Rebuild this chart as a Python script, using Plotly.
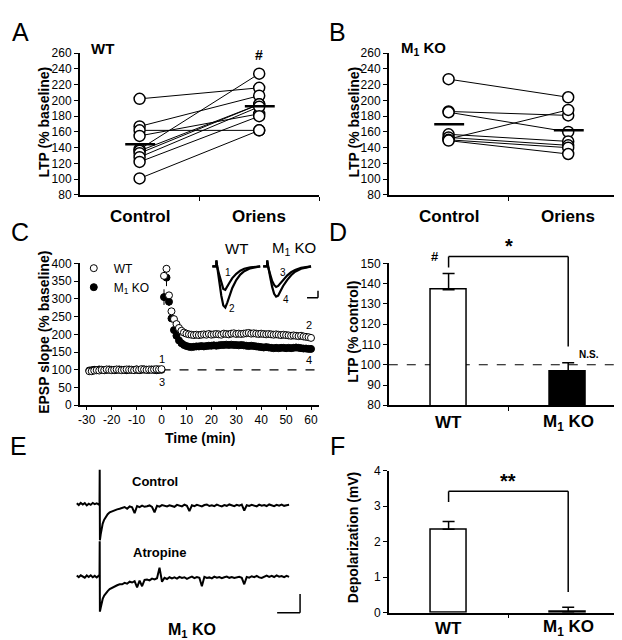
import numpy as np
import plotly.graph_objects as go

W, H = 622, 640
FONT = "Liberation Sans, Arial, Helvetica, sans-serif"


def px(x):
    return x / W


def py(y):
    return 1 - y / H


# ---------------- DATA ----------------
CAT_POS = [0.25, 0.75]            # Control, Oriens (panels A, B) / WT, M1 KO (D, F)
CAT_LABELS_AB = ["Control", "Oriens"]
CAT_LABELS_DF = ["WT", "M<sub>1</sub> KO"]

# Panel A (WT): paired LTP values (% baseline)
A_CONTROL = [202, 167, 162, 155, 138, 136, 133, 128, 122, 101]
A_ORIENS = [216, 206, 162, 183, 234, 195, 195, 192, 180, 162]
# Panel B (M1 KO)
B_CONTROL = [227, 186, 185, 151, 157, 153, 150, 149]
B_ORIENS = [204, 181, 160, 188, 148, 143, 140, 132]

# Panel C: EPSP slope time course (% baseline)
C_X_TICKS = [-30, -20, -10, 0, 10, 20, 30, 40, 50, 60]
C_X_TICKTEXT = ["-30", "-20", "-10", "0", "10", "20", "30", "40", "50", "60"]
C_BASE_T = list(range(-29, 1))
C_WT_BASE = [96, 96, 98, 99, 98, 100, 99, 101, 100, 99, 100, 101, 100, 99, 100,
             101, 100, 100, 99, 101, 100, 102, 101, 100, 101, 100, 101, 102, 101, 102]
C_KO_BASE = [98, 99, 100, 99, 101, 100, 99, 100, 101, 100, 99, 100, 101, 100, 100,
             99, 101, 100, 100, 101, 99, 100, 101, 100, 100, 101, 100, 99, 100, 100]
C_POST_T = list(range(1, 61))
C_WT_POST = [365, 385, 310, 265, 243, 229, 218, 210, 205, 202,
             200, 199, 198, 199, 198, 199, 200, 199, 201, 199,
             200, 201, 200, 199, 202, 201, 200, 202, 203, 201,
             202, 201, 202, 203, 204, 202, 203, 202, 201, 202,
             201, 200, 201, 200, 199, 200, 199, 198, 199, 198,
             197, 196, 197, 196, 195, 196, 194, 193, 192, 190]
C_KO_POST = [305, 360, 292, 245, 212, 196, 183, 175, 170, 167,
             165, 164, 165, 166, 166, 167, 166, 167, 168, 168,
             169, 168, 169, 170, 170, 171, 170, 171, 170, 170,
             169, 170, 169, 168, 167, 168, 167, 166, 165, 164,
             163, 164, 163, 162, 161, 162, 161, 162, 162, 161,
             162, 161, 162, 163, 162, 161, 160, 160, 159, 159]
C_WT_SEM = [9, 10, 7, 5, 4, 3]
C_KO_SEM = [22, 24, 12, 7, 5, 4]

# Panel C inset: EPSP waveforms (ms, mV)
INS_T = [-2, 0, 0, 0.5, 1.5, 2.5, 3.5, 4.5, 5.5, 6.5, 8, 10, 12, 14, 17, 20, 22]
INS_WT_1 = [0, 0, 0.3, -0.05, -0.45, -0.85, -1.15, -1.2, -1.05, -0.85, -0.6, -0.38, -0.22, -0.12, -0.05, -0.02, 0]
INS_WT_2 = [0, 0, 0.3, -0.1, -0.8, -1.5, -2.0, -2.1, -1.85, -1.5, -1.1, -0.7, -0.42, -0.25, -0.1, -0.04, 0]
INS_KO_3 = [0, 0, 0.3, -0.05, -0.4, -0.75, -0.95, -1.05, -1.0, -0.88, -0.68, -0.47, -0.3, -0.18, -0.08, -0.03, 0]
INS_KO_4 = [0, 0, 0.3, -0.08, -0.55, -1.05, -1.4, -1.55, -1.5, -1.3, -1.0, -0.7, -0.45, -0.27, -0.12, -0.05, 0]

# Panel D: LTP (% control)
D_MEAN = [137, 96.5]
D_SEM = [8, 4.5]

# Panel E: membrane potential traces (ms, mV)
E_T_PRE = [-230, -210, -190, -170, -150, -130, -110, -90, -70, -50, -30, -10]
E_T_STIM = [-2, 0, 2]
E_T_EARLY = [10, 20, 30, 45, 60, 80, 100, 125, 150, 175, 200]
E_T_LATE = list(range(225, 1901, 25))
E_CTRL = ([0.04, -0.05, 0.06, -0.02, 0.05, -0.07, 0.02, -0.04, 0.06, 0.0, 0.04, -0.03]
          + [0.0, 1.75, -1.85]
          + [-1.55, -1.25, -1.0, -0.8, -0.65, -0.52, -0.42, -0.36, -0.3, -0.27, -0.24]
          + [-0.20, -0.15, -0.24, -0.12, -0.17, -0.46, -0.10, -0.16, -0.08, -0.14,
             -0.11, -0.07, -0.15, -0.42, -0.09, -0.13, -0.05, -0.10, -0.12, -0.06,
             -0.09, -0.14, -0.04, -0.08, -0.12, -0.03, -0.09, -0.36, -0.06, -0.11,
             -0.04, -0.08, -0.12, -0.05, -0.02, -0.10, -0.06, -0.11, -0.03, -0.08,
             -0.12, -0.05, -0.09, -0.02, -0.07, -0.11, -0.04, -0.08, -0.03, -0.33,
             -0.06, -0.10, -0.04, -0.07, -0.12, -0.03, -0.08, -0.05, -0.10, -0.02,
             -0.07, -0.11, -0.04, -0.08, -0.03, -0.09, -0.06, -0.04])
E_ATRO = ([0.05, -0.04, 0.06, -0.01, -0.06, 0.05, -0.03, 0.06, -0.04, 0.03, -0.05, 0.04]
          + [0.0, 1.8, -1.8]
          + [-1.6, -1.35, -1.15, -0.98, -0.86, -0.75, -0.65, -0.57, -0.5, -0.45, -0.4]
          + [-0.40, -0.33, -0.37, -0.27, -0.31, -0.24, -0.56, -0.21, -0.50, -0.18,
             -0.16, -0.20, -0.11, -0.15, -0.09, 0.45, -0.27, -0.07, -0.13, -0.04,
             -0.10, -0.05, -0.11, -0.02, -0.08, -0.04, -0.12, -0.06, -0.01, -0.09,
             -0.03, -0.07, -0.50, -0.02, -0.08, -0.05, -0.10, -0.01, -0.06, -0.03,
             -0.09, -0.04, -0.01, -0.07, -0.03, -0.08, -0.05, -0.02, -0.07, -0.40,
             -0.03, -0.06, 0.01, -0.04, 0.03, -0.05, -0.08, 0.00, 0.04, -0.02,
             0.03, -0.03, 0.05, -0.01, 0.02, -0.04, 0.03, -0.02])

# Panel F: depolarization (mV)
F_MEAN = [2.35, 0.02]
F_SEM = [0.22, 0.13]

# ---------------- STYLE / LAYOUT ----------------
E_CTRL_OFFSET = 3.7   # vertical display offset of the control trace
INS_KO_SHIFT = 25.5   # horizontal display shift of the KO waveforms

fig = go.Figure()


def axis(**kw):
    d = dict(showline=True, linecolor="black", linewidth=1.5, ticks="outside",
             ticklen=4, tickwidth=1.2, tickcolor="black", showgrid=False,
             zeroline=False, fixedrange=True,
             tickfont=dict(family=FONT, size=12, color="black"))
    d.update(kw)
    return d


def hidden(**kw):
    d = dict(visible=False, showgrid=False, zeroline=False, fixedrange=True)
    d.update(kw)
    return d


# Panels A & B
for (ctrl, ori, xa, ya) in [(A_CONTROL, A_ORIENS, "x", "y"), (B_CONTROL, B_ORIENS, "x2", "y2")]:
    for c, o in zip(ctrl, ori):
        fig.add_trace(go.Scatter(x=[CAT_POS[0], CAT_POS[1]], y=[c, o], mode="lines",
                                 line=dict(color="black", width=1), xaxis=xa, yaxis=ya,
                                 showlegend=False, hoverinfo="skip"))
    for vals, cx in [(ctrl, CAT_POS[0]), (ori, CAT_POS[1])]:
        fig.add_trace(go.Scatter(x=[cx] * len(vals), y=vals, mode="markers",
                                 marker=dict(symbol="circle", size=11, color="white",
                                             line=dict(color="black", width=1.5)),
                                 xaxis=xa, yaxis=ya, showlegend=False))
        m = float(np.mean(vals))
        fig.add_trace(go.Scatter(x=[cx - 0.06, cx + 0.065], y=[m, m], mode="lines",
                                 line=dict(color="black", width=2.5), xaxis=xa, yaxis=ya,
                                 showlegend=False, hoverinfo="skip"))

# Panel C time course
ko_err = C_KO_SEM + [0] * (len(C_POST_T) - len(C_KO_SEM))
wt_err = C_WT_SEM + [0] * (len(C_POST_T) - len(C_WT_SEM))
fig.add_trace(go.Scatter(x=C_BASE_T + C_POST_T, y=C_KO_BASE + C_KO_POST, mode="markers",
                         name="M<sub>1</sub> KO", legendrank=2,
                         marker=dict(symbol="circle", size=7, color="black",
                                     line=dict(color="black", width=1)),
                         error_y=dict(type="data", array=[0] * len(C_BASE_T) + ko_err,
                                      color="black", thickness=1, width=0),
                         xaxis="x3", yaxis="y3"))
fig.add_trace(go.Scatter(x=C_BASE_T + C_POST_T, y=C_WT_BASE + C_WT_POST, mode="markers",
                         name="WT", legendrank=1,
                         marker=dict(symbol="circle", size=7, color="white",
                                     line=dict(color="black", width=1)),
                         error_y=dict(type="data", array=[0] * len(C_BASE_T) + wt_err,
                                      color="black", thickness=1, width=0),
                         xaxis="x3", yaxis="y3"))

# Panel C inset waveforms
for vals, shift in [(INS_WT_1, 0), (INS_WT_2, 0), (INS_KO_3, INS_KO_SHIFT), (INS_KO_4, INS_KO_SHIFT)]:
    fig.add_trace(go.Scatter(x=[t + shift for t in INS_T], y=vals, mode="lines",
                             line=dict(color="black", width=2.2), xaxis="x7", yaxis="y7",
                             showlegend=False, hoverinfo="skip"))

# Panel D bars
fig.add_trace(go.Bar(x=CAT_POS, y=D_MEAN, width=0.15,
                     marker=dict(color=["white", "black"], line=dict(color="black", width=1.5)),
                     error_y=dict(type="data", symmetric=False, array=D_SEM, arrayminus=[0, 0],
                                  color="black", thickness=1.5, width=6),
                     xaxis="x4", yaxis="y4", showlegend=False))

# Panel E traces
E_T = E_T_PRE + E_T_STIM + E_T_EARLY + E_T_LATE
fig.add_trace(go.Scatter(x=E_T, y=[v + E_CTRL_OFFSET for v in E_CTRL], mode="lines",
                         line=dict(color="black", width=2), xaxis="x5", yaxis="y5",
                         showlegend=False, hoverinfo="skip"))
fig.add_trace(go.Scatter(x=E_T, y=E_ATRO, mode="lines",
                         line=dict(color="black", width=2), xaxis="x5", yaxis="y5",
                         showlegend=False, hoverinfo="skip"))

# Panel F bars
fig.add_trace(go.Bar(x=CAT_POS, y=F_MEAN, width=0.15,
                     marker=dict(color=["white", "black"], line=dict(color="black", width=1.5)),
                     error_y=dict(type="data", symmetric=False, array=F_SEM, arrayminus=[0, 0],
                                  color="black", thickness=1.5, width=6),
                     xaxis="x6", yaxis="y6", showlegend=False))

# axis domains (pixels)
AB_Y = [py(184), py(39)]
CD_Y = [py(399), py(254)]
F_Y = [py(611), py(466)]
LEFT_X = [px(70), px(310)]
RIGHT_X = [px(380), px(620)]

cat_axis = dict(range=[0, 1], tickmode="array", tickvals=[0.5, 1.0], showticklabels=False)

fig.update_layout(
    width=W, height=H, autosize=False,
    margin=dict(l=0, r=0, t=0, b=0),
    paper_bgcolor="white", plot_bgcolor="rgba(0,0,0,0)",
    font=dict(family=FONT, color="black"),
    bargap=0,
    xaxis=axis(domain=LEFT_X, anchor="y", **cat_axis),
    yaxis=axis(domain=AB_Y, anchor="x", range=[80, 260], tick0=80, dtick=20),
    xaxis2=axis(domain=RIGHT_X, anchor="y2", **cat_axis),
    yaxis2=axis(domain=AB_Y, anchor="x2", range=[80, 260], tick0=80, dtick=20),
    xaxis3=axis(domain=LEFT_X, anchor="y3", range=[-32.8, 63.2], tickmode="array",
                tickvals=C_X_TICKS, ticktext=C_X_TICKTEXT, ticklen=3),
    yaxis3=axis(domain=CD_Y, anchor="x3", range=[0, 400], tick0=0, dtick=50),
    xaxis4=axis(domain=RIGHT_X, anchor="y4", **cat_axis),
    yaxis4=axis(domain=CD_Y, anchor="x4", range=[80, 150], tick0=80, dtick=10),
    xaxis5=hidden(domain=[px(60), px(300)], anchor="y5", range=[-300, 2100]),
    yaxis5=hidden(domain=[py(615), py(460)], anchor="x5", range=[-2.05, 5.7]),
    xaxis6=axis(domain=RIGHT_X, anchor="y6", **cat_axis),
    yaxis6=axis(domain=F_Y, anchor="x6", range=[0, 4], tick0=0, dtick=1),
    xaxis7=hidden(domain=[px(200), px(312)], anchor="y7", range=[-3.5, 52.5]),
    yaxis7=hidden(domain=[py(305), py(245)], anchor="x7", range=[-2.4, 0.6]),
    legend=dict(x=px(64), y=py(244), xanchor="left", yanchor="top",
                bgcolor="rgba(0,0,0,0)", font=dict(family=FONT, size=12),
                tracegroupgap=0, itemwidth=30),
    showlegend=True,
)


# helpers: data value -> paper coordinate for overlays outside axis ranges
def yd(val, rng, top_px, bot_px):
    return py(bot_px - (val - rng[0]) / (rng[1] - rng[0]) * (bot_px - top_px))


def xd(val, left_px=380, right_px=620):
    return px(left_px + val * (right_px - left_px))


shapes = []
# dashed 100% lines
shapes.append(dict(type="line", xref="x3", yref="y3", x0=0, x1=63.2, y0=100, y1=100,
                   line=dict(color="black", width=1.2, dash="dash"), layer="below"))
shapes.append(dict(type="line", xref="x4", yref="y4", x0=0, x1=1, y0=100, y1=100,
                   line=dict(color="black", width=1.2, dash="dash"), layer="below"))


def bracket(xl, xr, yl, ytop, yr, rng, top_px, bot_px):
    out = []
    pts = [(xl, yl), (xl, ytop), (xr, ytop), (xr, yr)]
    for (a, b), (c, d) in zip(pts[:-1], pts[1:]):
        out.append(dict(type="line", xref="paper", yref="paper",
                        x0=xd(a), x1=xd(c), y0=yd(b, rng, top_px, bot_px), y1=yd(d, rng, top_px, bot_px),
                        line=dict(color="black", width=1.5)))
    return out


shapes += bracket(0.25, 0.75, 148, 153.4, 109, [80, 150], 254, 399)
shapes += bracket(0.25, 0.75, 3.12, 3.42, 0.58, [0, 4], 466, 611)

# scale bars
shapes.append(dict(type="line", xref="x5", yref="y5", x0=1780, x1=2010, y0=-1.85, y1=-1.85,
                   line=dict(color="black", width=1.5)))
shapes.append(dict(type="line", xref="x5", yref="y5", x0=2010, x1=2010, y0=-1.85, y1=-0.9,
                   line=dict(color="black", width=1.5)))
shapes.append(dict(type="line", xref="x7", yref="y7", x0=45.5, x1=51, y0=-1.6, y1=-1.6,
                   line=dict(color="black", width=1.5)))
shapes.append(dict(type="line", xref="x7", yref="y7", x0=51, x1=51, y0=-1.6, y1=-1.25,
                   line=dict(color="black", width=1.5)))
fig.update_layout(shapes=shapes)

ann = []


def txt(text, x, y, size, bold=False, angle=0, xanchor="center"):
    t = "<b>%s</b>" % text if bold else text
    ann.append(dict(text=t, x=px(x), y=py(y), xref="paper", yref="paper", showarrow=False,
                    xanchor=xanchor, yanchor="middle", textangle=angle,
                    font=dict(family=FONT, size=size, color="black")))


# panel letters
for L, x, y in [("A", 11, 17), ("B", 329, 17), ("C", 10, 222), ("D", 329, 222), ("E", 9, 441), ("F", 329, 441)]:
    txt(L, x, y, 25)

# A / B
txt("WT", 93, 34, 15, True)
txt("M<sub>1</sub> KO", 415, 34, 15, True)
txt("#", 250, 41, 14, True)
for lbl, cx in zip(CAT_LABELS_AB, CAT_POS):
    txt(lbl, 70 + cx * 240, 206, 17, True)
    txt(lbl, 380 + cx * 240, 206, 17, True)
txt("LTP (% baseline)", 34, 109, 14, True, angle=-90)
txt("LTP (% baseline)", 345, 109, 14, True, angle=-90)

# C
txt("EPSP slope (% baseline)", 34, 324, 14, True, angle=-90)
txt("Time (min)", 191, 432, 14, True)
txt("1", 152, 352, 11)
txt("3", 152, 375, 11)
txt("2", 300, 317, 11)
txt("4", 300, 353, 11)
txt("WT", 227, 239, 15)
txt("M<sub>1</sub> KO", 285, 239, 15)
txt("1", 219, 263, 10)
txt("2", 223, 300, 10)
txt("3", 274, 263, 10)
txt("4", 277, 291, 10)

# D
txt("LTP (% control)", 344, 324, 14, True, angle=-90)
for lbl, cx in zip(CAT_LABELS_DF, CAT_POS):
    txt(lbl, 380 + cx * 240, 417, 17, True)
    txt(lbl, 380 + cx * 240, 627, 17, True)
txt("*", 501, 236, 20, True)
txt("#", 426, 247, 13, True)
txt("N.S.", 581, 347, 10, True)

# E
txt("Control", 145, 477, 13, True)
txt("Atropine", 150, 550, 13, True)
txt("M<sub>1</sub> KO", 183, 629, 16, True)

# F
txt("Depolarization (mV)", 344, 534, 14, True, angle=-90)
txt("**", 500, 476, 20, True)

fig.update_layout(annotations=ann)
fig.write_html("out.html")
